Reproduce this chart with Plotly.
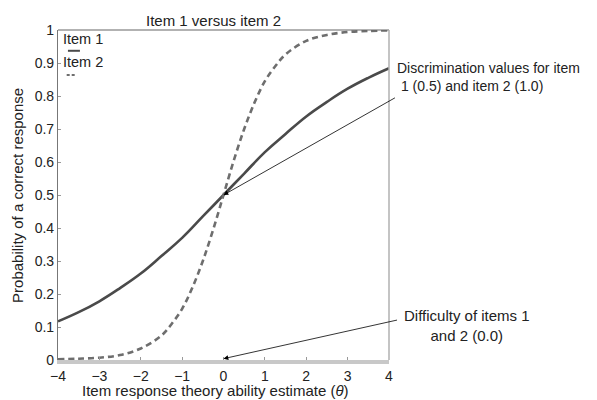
import plotly.graph_objects as go

# Data
theta_item1 = [-4, -3.5, -3, -2.5, -2, -1.5, -1, -0.5, 0, 0.5, 1, 1.5, 2, 2.5, 3, 3.5, 4]
p_item1 = [0.117, 0.145, 0.178, 0.218, 0.262, 0.315, 0.37, 0.435, 0.5,
           0.565, 0.63, 0.685, 0.738, 0.782, 0.822, 0.855, 0.884]

theta_item2 = [-4, -3.5, -3, -2.5, -2, -1.5, -1.25, -1, -0.75, -0.5, -0.25, 0,
               0.25, 0.5, 0.75, 1, 1.25, 1.5, 2, 2.5, 3, 3.5, 4]
p_item2 = [0.002, 0.004, 0.007, 0.015, 0.035, 0.074, 0.11, 0.155, 0.22, 0.30, 0.395, 0.5,
           0.605, 0.70, 0.78, 0.845, 0.89, 0.926, 0.967, 0.985, 0.994, 0.997, 0.999]

x_ticks = [-4, -3, -2, -1, 0, 1, 2, 3, 4]
y_ticks = [0, 0.1, 0.2, 0.3, 0.4, 0.5, 0.6, 0.7, 0.8, 0.9, 1]
y_tick_labels = ["0", "0.1", "0.2", "0.3", "0.4", "0.5", "0.6", "0.7", "0.8", "0.9", "1"]

FONT = "Liberation Sans, Arial, Helvetica, sans-serif"
TXT = "#222222"
TICK_SIZE = 14
LABEL_SIZE = 15

fig = go.Figure()
fig.add_trace(go.Scatter(x=theta_item1, y=p_item1, mode="lines", name="Item 1",
                         line=dict(color="#4a4a4a", width=2.6, shape="spline", smoothing=1.2),
                         showlegend=False))
fig.add_trace(go.Scatter(x=theta_item2, y=p_item2, mode="lines", name="Item 2",
                         line=dict(color="#6e6e6e", width=2.6, dash="6px,4px", shape="spline"),
                         showlegend=False))

# page body has an 8px margin, so the figure is made 8px smaller on each of those sides
fig.update_layout(
    width=589, height=392,
    margin=dict(l=50, r=208, t=22, b=39.5),
    paper_bgcolor="white", plot_bgcolor="white",
    font=dict(family=FONT, size=TICK_SIZE, color=TXT),
    showlegend=False,
)
fig.update_xaxes(range=[-4, 4], tickvals=x_ticks, ticks="inside", ticklen=3,
                 tickcolor="#999999", showgrid=False, zeroline=False,
                 showline=True, linecolor="#c8c8c8", linewidth=3.5,
                 tickfont=dict(family=FONT, size=TICK_SIZE, color=TXT))
fig.update_yaxes(range=[0, 1], tickvals=y_ticks, ticktext=y_tick_labels, ticks="inside",
                 ticklen=3, tickcolor="#999999", showgrid=False, zeroline=False,
                 showline=True, linecolor="#777777", linewidth=1.2,
                 tickfont=dict(family=FONT, size=TICK_SIZE, color=TXT))

# Top and right frame lines
fig.add_shape(type="line", xref="paper", yref="paper", x0=0, x1=1, y0=1, y1=1,
              line=dict(color="#666666", width=1.2))
fig.add_shape(type="line", xref="paper", yref="paper", x0=1, x1=1, y0=0, y1=1,
              line=dict(color="#b0b0b0", width=1.5))

# Legend (text above short samples)
fig.add_annotation(x=-3.93, y=0.972, xref="x", yref="y", text="Item 1", showarrow=False,
                   xanchor="left", yanchor="middle", font=dict(size=14.5, color=TXT))
fig.add_annotation(x=-3.93, y=0.904, xref="x", yref="y", text="Item 2", showarrow=False,
                   xanchor="left", yanchor="middle", font=dict(size=14.5, color=TXT))
fig.add_shape(type="line", xref="x", yref="y", x0=-3.76, x1=-3.47, y0=0.937, y1=0.937,
              line=dict(color="#4a4a4a", width=2))
fig.add_shape(type="line", xref="x", yref="y", x0=-3.79, x1=-3.55, y0=0.864, y1=0.864,
              line=dict(color="#6e6e6e", width=2, dash="3px,2px"))

# Title and axis titles
fig.add_annotation(x=0.471, y=1.03, xref="paper", yref="paper", text="Item 1 versus item 2",
                   showarrow=False, xanchor="center", yanchor="middle",
                   font=dict(size=LABEL_SIZE, color=TXT))
fig.add_annotation(x=0.477, y=-0.092, xref="paper", yref="paper",
                   text="Item response theory ability estimate (<i>θ</i>)",
                   showarrow=False, xanchor="center", yanchor="middle",
                   font=dict(size=LABEL_SIZE, color=TXT))
fig.add_annotation(x=-0.124, y=0.5, xref="paper", yref="paper",
                   text="Probability of a correct response", textangle=-90,
                   showarrow=False, xanchor="center", yanchor="middle",
                   font=dict(size=LABEL_SIZE, color=TXT))

# Arrows
fig.add_annotation(x=0, y=0.5, xref="x", yref="y", ax=4.18, ay=0.797, axref="x", ayref="y",
                   text="", showarrow=True, arrowhead=2, arrowsize=1.2, arrowwidth=0.8,
                   arrowcolor="black")
fig.add_annotation(x=0, y=0.004, xref="x", yref="y", ax=4.23, ay=0.122, axref="x", ayref="y",
                   text="", showarrow=True, arrowhead=2, arrowsize=1.2, arrowwidth=0.8,
                   arrowcolor="black")

# Annotation texts
fig.add_annotation(x=1.018, y=0.859, xref="paper", yref="paper",
                   text="Discrimination values for item<br>\u00a01 (0.5) and item 2 (1.0)",
                   showarrow=False, xanchor="left", yanchor="middle", align="left",
                   font=dict(size=14, color=TXT))
fig.add_annotation(x=1.236, y=0.106, xref="paper", yref="paper",
                   text="Difficulty of items 1<br>and 2 (0.0)",
                   showarrow=False, xanchor="center", yanchor="middle", align="center",
                   font=dict(size=LABEL_SIZE, color=TXT))

fig.write_html("out.html")
